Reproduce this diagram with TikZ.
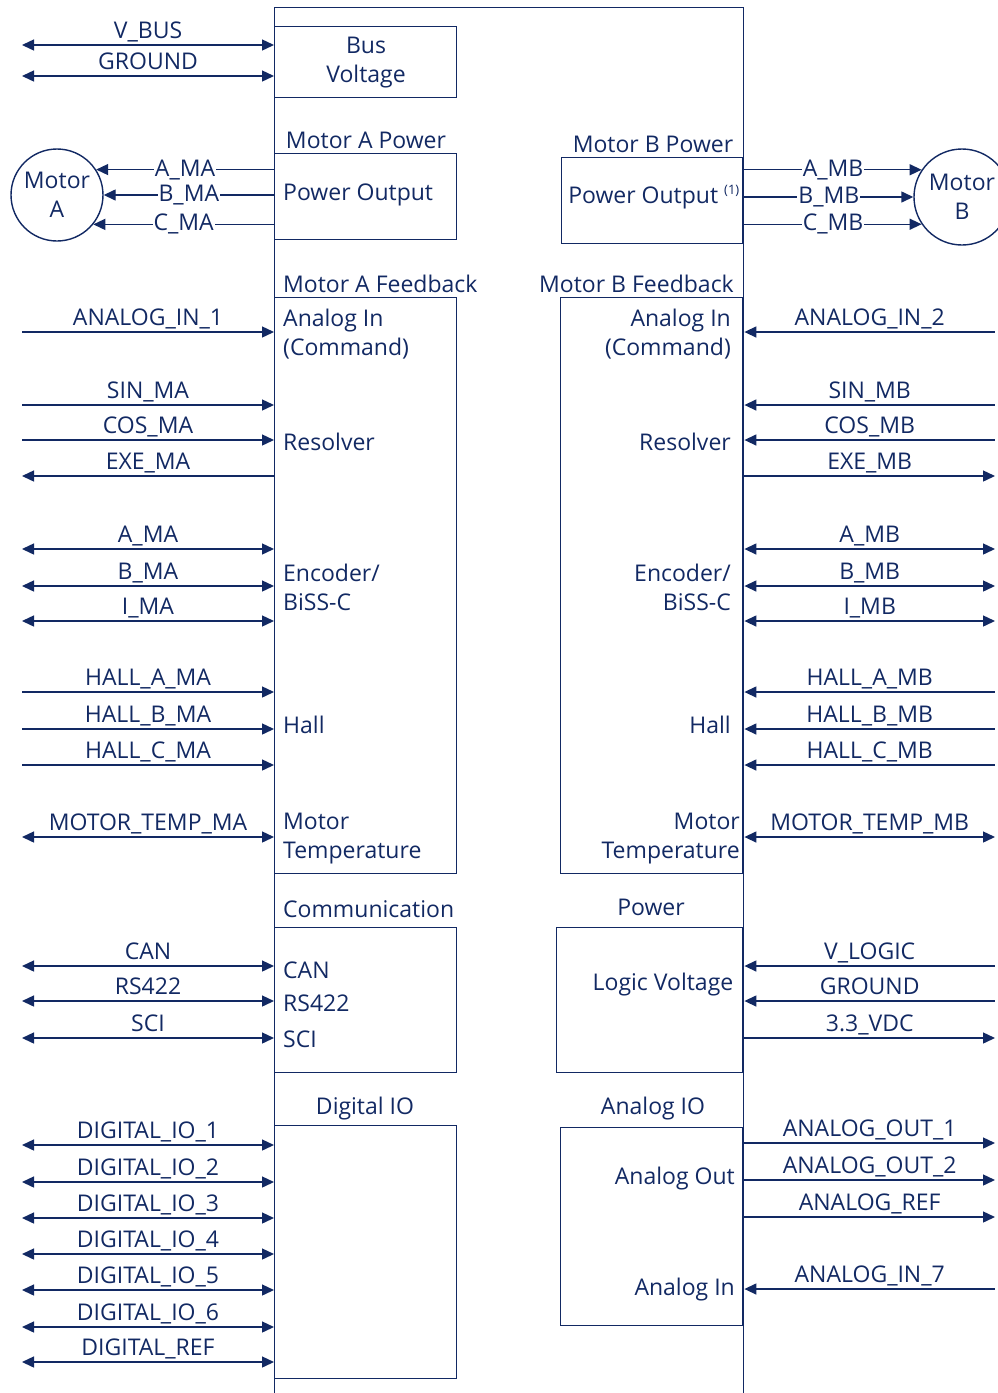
\documentclass[tikz,border=0pt]{standalone}
\usepackage{fontspec}
\setmainfont{Open Sans}
\usetikzlibrary{arrows.meta,positioning}
\definecolor{navy}{RGB}{18,41,99}
\tikzset{
    lab/.style={
        font=\fontsize{23}{29}\selectfont, text=navy
    }
}
\begin{document}
\begin{tikzpicture}[x=1pt,y=-1pt, >={Triangle[length=12pt,width=11pt]}]

\tikzset{
  blk/.style={draw=navy, line width=1.4pt, inner sep=0pt, anchor=north west},
  sig/.style={draw=navy, line width=1.4pt},
  mot/.style={circle, draw=navy, line width=1.4pt, lab, align=center, inner sep=0pt},
  ttl/.style={lab, inner sep=0pt},
  sname/.style={lab, midway, above=2pt, inner sep=0pt, text depth=4pt},
  wire/.style={lab, midway, fill=white, inner sep=1pt},
}

\useasboundingbox (0,0) rectangle (997,1393);

% main body and blocks
\node[blk, minimum width=469, minimum height=1400] (body) at (274,7) {};

\node[blk, minimum width=182, minimum height=71] (bus) at (274,26) {};
\node[blk, minimum width=182, minimum height=86] (pwrA) at (274,153) {};
\node[blk, minimum width=182, minimum height=576] (fbA) at (274,297) {};
\node[blk, minimum width=182, minimum height=145] (com) at (274,927) {};
\node[blk, minimum width=182, minimum height=253] (dio) at (274,1125) {};

\node[blk, anchor=north east, minimum width=181, minimum height=86] (pwrB) at (743,157) {};
\node[blk, anchor=north east, minimum width=182, minimum height=576] (fbB) at (743,297) {};
\node[blk, anchor=north east, minimum width=186, minimum height=145] (lgc) at (743,927) {};
\node[blk, anchor=north east, minimum width=182, minimum height=198] (aio) at (743,1127) {};

% block titles
\node[ttl] (tPwrA) at (366,140) {Motor A Power};
\node[ttl] (tPwrB) at (653,144) {Motor B Power};
\node[ttl, anchor=west] (tFbA) at (283,284) {Motor A Feedback};
\node[ttl, anchor=east] (tFbB) at (734,284) {Motor B Feedback};
\node[ttl, anchor=west] (tCom) at (283,909) {Communication};
\node[ttl] (tLgc) at (651,907) {Power};
\node[ttl] (tDio) at (365,1109) {Digital IO};
\node[ttl] (tAio) at (653,1109) {Analog IO};

% block contents
\node[ttl, align=center] (busTxt) at (366,63) {Bus\\Voltage};
\node[ttl, anchor=west] (pwrATxt) at (283,195) {Power Output};
\node[ttl, anchor=east] (pwrBTxt) at (740,197) {Power Output \textsuperscript{\fontsize{13}{13}\selectfont(1)}};

\node[ttl, anchor=west, align=left] (aInA) at (283,334) {Analog In\\(Command)};
\node[ttl, anchor=west] (resA) at (283,442) {Resolver};
\node[ttl, anchor=west, align=left] (encA) at (283,587) {Encoder/\\BiSS-C};
\node[ttl, anchor=west] (hallA) at (283,725) {Hall};
\node[ttl, anchor=west, align=left] (tmpA) at (283,839) {Motor\\Temperature};

\node[ttl, anchor=east, align=right] (aInB) at (731,334) {Analog In\\(Command)};
\node[ttl, anchor=east] (resB) at (731,442) {Resolver};
\node[ttl, anchor=east, align=right] (encB) at (731,587) {Encoder/\\BiSS-C};
\node[ttl, anchor=east] (hallB) at (731,725) {Hall};
\node[ttl, anchor=east, align=right] (tmpB) at (740,839) {Motor\\Temperature};

\node[ttl, anchor=west] (canTxt) at (283,970) {CAN};
\node[ttl, anchor=west] (rsTxt) at (283,1003) {RS422};
\node[ttl, anchor=west] (sciTxt) at (283,1039) {SCI};

\node[ttl] (lgcTxt) at (663,985) {Logic Voltage};
\node[ttl, anchor=east] (aOutTxt) at (735,1179) {Analog Out};
\node[ttl, anchor=east] (aInTxt) at (735,1290) {Analog In};

% motors
\node[mot, minimum size=92] (motA) at (57,195) {Motor\\A};
\node[mot, minimum size=96] (motB) at (962,197) {Motor\\B};

% bus voltage
\coordinate (vbus) at (22,45);
\coordinate (gndA) at (22,76);
\draw[sig,<->] (vbus) -- (vbus -| body.west) node[sname] {V\_BUS};
\draw[sig,<->] (gndA) -- (gndA -| body.west) node[sname] {GROUND};

% motor phases
\draw[sig,<-] (motA.33) -- (motA.33 -| body.west) node[wire] {A\_MA};
\draw[sig,<-] (motA.east) -- (motA.east -| body.west) node[wire] {B\_MA};
\draw[sig,<-] (motA.-39) -- (motA.-39 -| body.west) node[wire] {C\_MA};

\draw[sig,->] (motB.146 -| body.east) -- (motB.146) node[wire] {A\_MB};
\draw[sig,->] (motB.west -| body.east) -- (motB.west) node[wire] {B\_MB};
\draw[sig,->] (motB.214 -| body.east) -- (motB.214) node[wire] {C\_MB};

% motor A feedback
\coordinate (ain1) at (22,332);
\coordinate (sinA) at (22,405);
\coordinate (cosA) at (22,440);
\coordinate (exeA) at (22,476);
\coordinate (encAa) at (22,549);
\coordinate (encAb) at (22,586);
\coordinate (encAi) at (22,621);
\coordinate (hallAa) at (22,692);
\coordinate (hallAb) at (22,729);
\coordinate (hallAc) at (22,765);
\coordinate (tempA) at (22,837);
\draw[sig,->] (ain1) -- (ain1 -| body.west) node[sname] {ANALOG\_IN\_1};
\draw[sig,->] (sinA) -- (sinA -| body.west) node[sname] {SIN\_MA};
\draw[sig,->] (cosA) -- (cosA -| body.west) node[sname] {COS\_MA};
\draw[sig,<-] (exeA) -- (exeA -| body.west) node[sname] {EXE\_MA};
\draw[sig,<->] (encAa) -- (encAa -| body.west) node[sname] {A\_MA};
\draw[sig,<->] (encAb) -- (encAb -| body.west) node[sname] {B\_MA};
\draw[sig,<->] (encAi) -- (encAi -| body.west) node[sname] {I\_MA};
\draw[sig,->] (hallAa) -- (hallAa -| body.west) node[sname] {HALL\_A\_MA};
\draw[sig,->] (hallAb) -- (hallAb -| body.west) node[sname] {HALL\_B\_MA};
\draw[sig,->] (hallAc) -- (hallAc -| body.west) node[sname] {HALL\_C\_MA};
\draw[sig,<->] (tempA) -- (tempA -| body.west) node[sname] {MOTOR\_TEMP\_MA};

% motor B feedback
\coordinate (ain2) at (995,332);
\coordinate (sinB) at (995,405);
\coordinate (cosB) at (995,440);
\coordinate (exeB) at (995,476);
\coordinate (encBa) at (995,549);
\coordinate (encBb) at (995,586);
\coordinate (encBi) at (995,621);
\coordinate (hallBa) at (995,692);
\coordinate (hallBb) at (995,729);
\coordinate (hallBc) at (995,765);
\coordinate (tempB) at (995,837);
\draw[sig,<-] (ain2 -| body.east) -- (ain2) node[sname] {ANALOG\_IN\_2};
\draw[sig,<-] (sinB -| body.east) -- (sinB) node[sname] {SIN\_MB};
\draw[sig,<-] (cosB -| body.east) -- (cosB) node[sname] {COS\_MB};
\draw[sig,->] (exeB -| body.east) -- (exeB) node[sname] {EXE\_MB};
\draw[sig,<->] (encBa -| body.east) -- (encBa) node[sname] {A\_MB};
\draw[sig,<->] (encBb -| body.east) -- (encBb) node[sname] {B\_MB};
\draw[sig,<->] (encBi -| body.east) -- (encBi) node[sname] {I\_MB};
\draw[sig,<-] (hallBa -| body.east) -- (hallBa) node[sname] {HALL\_A\_MB};
\draw[sig,<-] (hallBb -| body.east) -- (hallBb) node[sname] {HALL\_B\_MB};
\draw[sig,<-] (hallBc -| body.east) -- (hallBc) node[sname] {HALL\_C\_MB};
\draw[sig,<->] (tempB -| body.east) -- (tempB) node[sname] {MOTOR\_TEMP\_MB};

% communication
\coordinate (can) at (22,966);
\coordinate (rs) at (22,1001);
\coordinate (sci) at (22,1038);
\draw[sig,<->] (can) -- (can -| body.west) node[sname] {CAN};
\draw[sig,<->] (rs) -- (rs -| body.west) node[sname] {RS422};
\draw[sig,<->] (sci) -- (sci -| body.west) node[sname] {SCI};

% logic power
\coordinate (vlog) at (995,966);
\coordinate (gndB) at (995,1001);
\coordinate (vdc) at (995,1038);
\draw[sig,<-] (vlog -| body.east) -- (vlog) node[sname] {V\_LOGIC};
\draw[sig,<-] (gndB -| body.east) -- (gndB) node[sname] {GROUND};
\draw[sig,->] (vdc -| body.east) -- (vdc) node[sname] {3.3\_VDC};

% digital IO
\coordinate (dio1) at (22,1145);
\coordinate (dio2) at (22,1182);
\coordinate (dio3) at (22,1218);
\coordinate (dio4) at (22,1254);
\coordinate (dio5) at (22,1290);
\coordinate (dio6) at (22,1327);
\coordinate (dref) at (22,1362);
\draw[sig,<->] (dio1) -- (dio1 -| body.west) node[sname] {DIGITAL\_IO\_1};
\draw[sig,<->] (dio2) -- (dio2 -| body.west) node[sname] {DIGITAL\_IO\_2};
\draw[sig,<->] (dio3) -- (dio3 -| body.west) node[sname] {DIGITAL\_IO\_3};
\draw[sig,<->] (dio4) -- (dio4 -| body.west) node[sname] {DIGITAL\_IO\_4};
\draw[sig,<->] (dio5) -- (dio5 -| body.west) node[sname] {DIGITAL\_IO\_5};
\draw[sig,<->] (dio6) -- (dio6 -| body.west) node[sname] {DIGITAL\_IO\_6};
\draw[sig,<->] (dref) -- (dref -| body.west) node[sname] {DIGITAL\_REF};

% analog IO
\coordinate (aout1) at (995,1143);
\coordinate (aout2) at (995,1180);
\coordinate (aref) at (995,1217);
\coordinate (ain7) at (995,1289);
\draw[sig,->] (aout1 -| body.east) -- (aout1) node[sname] {ANALOG\_OUT\_1};
\draw[sig,->] (aout2 -| body.east) -- (aout2) node[sname] {ANALOG\_OUT\_2};
\draw[sig,->] (aref -| body.east) -- (aref) node[sname] {ANALOG\_REF};
\draw[sig,<-] (ain7 -| body.east) -- (ain7) node[sname] {ANALOG\_IN\_7};

\end{tikzpicture}
\end{document}
